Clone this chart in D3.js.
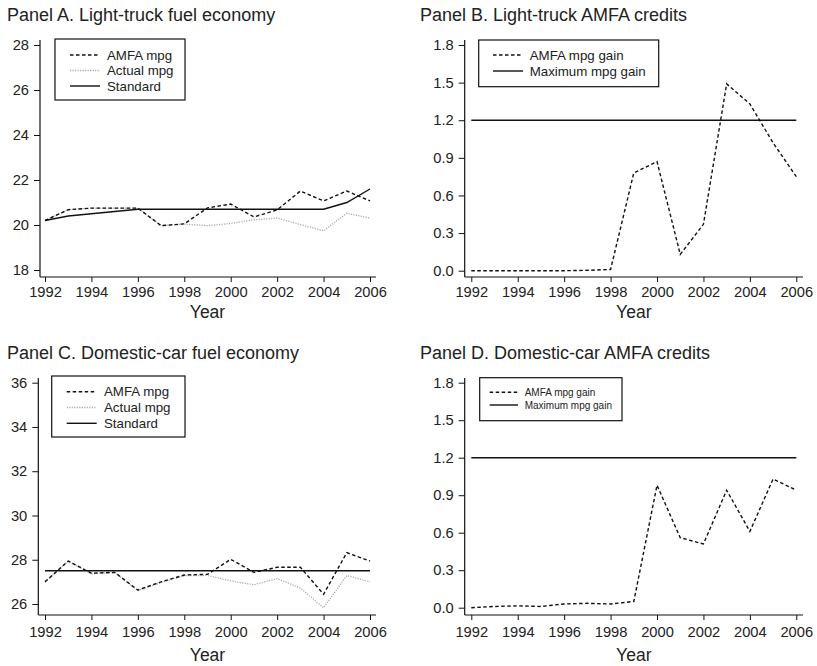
<!DOCTYPE html>
<html>
<head>
<meta charset="utf-8">
<script src="https://cdn.jsdelivr.net/npm/d3@7"></script>
<style>
  body { margin: 0; background: #fff; }
  svg text { font-family: "Liberation Sans", Arial, sans-serif; fill: #222; }
</style>
</head>
<body>
<script>
'use strict';

// data
const years = [1992, 1993, 1994, 1995, 1996, 1997, 1998, 1999, 2000, 2001, 2002, 2003, 2004, 2005, 2006];
const yearTicks = [1992, 1994, 1996, 1998, 2000, 2002, 2004, 2006];

const truckAmfa     = [20.2, 20.68, 20.75, 20.75, 20.75, 19.97, 20.05, 20.76, 20.93, 20.36, 20.67, 21.51, 21.07, 21.51, 21.07];
const truckActual   = [20.2, 20.68, 20.75, 20.75, 20.75, 19.97, 20.04, 19.97, 20.07, 20.23, 20.31, 20.02, 19.74, 20.52, 20.31];
const truckStandard = [20.2, 20.4, 20.5, 20.6, 20.7, 20.7, 20.7, 20.7, 20.7, 20.7, 20.7, 20.7, 20.7, 21.0, 21.6];
const truckGain     = [0, 0, 0, 0, 0, 0.003, 0.01, 0.78, 0.87, 0.13, 0.37, 1.49, 1.33, 1.02, 0.75];
const truckMaxGain  = [1.2, 1.2, 1.2, 1.2, 1.2, 1.2, 1.2, 1.2, 1.2, 1.2, 1.2, 1.2, 1.2, 1.2, 1.2];

const carAmfa     = [27.0, 27.94, 27.39, 27.43, 26.63, 27.0, 27.31, 27.34, 28.02, 27.43, 27.66, 27.66, 26.44, 28.32, 27.94];
const carActual   = [27.0, 27.93, 27.37, 27.42, 26.60, 26.97, 27.28, 27.29, 27.04, 26.87, 27.15, 26.72, 25.83, 27.29, 27.0];
const carStandard = [27.5, 27.5, 27.5, 27.5, 27.5, 27.5, 27.5, 27.5, 27.5, 27.5, 27.5, 27.5, 27.5, 27.5, 27.5];
const carGain     = [0.0, 0.01, 0.015, 0.01, 0.03, 0.035, 0.03, 0.05, 0.98, 0.56, 0.51, 0.94, 0.61, 1.03, 0.94];
const carMaxGain  = [1.2, 1.2, 1.2, 1.2, 1.2, 1.2, 1.2, 1.2, 1.2, 1.2, 1.2, 1.2, 1.2, 1.2, 1.2];

const mpgTicksA = [18, 20, 22, 24, 26, 28];
const mpgTicksC = [26, 28, 30, 32, 34, 36];
const gainTicks = [0.0, 0.3, 0.6, 0.9, 1.2, 1.5, 1.8];

// line styles
const styles = {
  amfa:     { stroke: '#111', width: 1.4, dash: '3.5,2.5' },
  actual:   { stroke: '#aaa', width: 1.3, dash: '1.2,1.3' },
  standard: { stroke: '#111', width: 1.4, dash: null }
};

const svg = d3.select('body').append('svg')
  .attr('width', 817)
  .attr('height', 666);

svg.append('rect').attr('width', 817).attr('height', 666).attr('fill', '#fff');

// one panel = title, two axes, lines, legend box
function drawPanel(p) {
  const g = svg.append('g');

  const x = d3.scaleLinear().domain([1992, 2006]).range(p.xRange);
  const y = d3.scaleLinear().domain(p.yDomain).range(p.yRange);

  g.append('text')
    .attr('x', p.titleX).attr('y', p.titleY)
    .style('font-size', '18px')
    .text(p.title);

  // axis lines
  g.append('line')
    .attr('x1', p.axisX).attr('x2', p.axisX)
    .attr('y1', p.axisTop).attr('y2', p.axisY)
    .attr('stroke', '#111').attr('stroke-width', 1.2);
  g.append('line')
    .attr('x1', p.axisX).attr('x2', p.axisRight)
    .attr('y1', p.axisY).attr('y2', p.axisY)
    .attr('stroke', '#111').attr('stroke-width', 1.2);

  const yAxis = d3.axisLeft(y).tickValues(p.yTicks).tickSize(6).tickPadding(5)
    .tickFormat(p.yFormat);
  g.append('g')
    .attr('transform', `translate(${p.axisX},0)`)
    .call(yAxis)
    .call(a => a.select('.domain').remove())
    .call(a => a.selectAll('line').attr('stroke', '#111'))
    .call(a => a.selectAll('text').style('font-size', '14.7px').attr('fill', '#222'));

  const xAxis = d3.axisBottom(x).tickValues(yearTicks).tickSize(5).tickPadding(p.xPad)
    .tickFormat(d3.format('d'));
  g.append('g')
    .attr('transform', `translate(0,${p.axisY})`)
    .call(xAxis)
    .call(a => a.select('.domain').remove())
    .call(a => a.selectAll('line').attr('stroke', '#111'))
    .call(a => a.selectAll('text').style('font-size', '14.7px').attr('fill', '#222'));

  g.append('text')
    .attr('x', (p.xRange[0] + p.xRange[1]) / 2)
    .attr('y', p.yearY)
    .attr('text-anchor', 'middle')
    .style('font-size', '17.5px')
    .text('Year');

  const line = d3.line()
    .x((d, i) => x(years[i]))
    .y(d => y(d));

  p.series.forEach(s => {
    const st = styles[s.style];
    g.append('path')
      .datum(s.values)
      .attr('d', line)
      .attr('fill', 'none')
      .attr('stroke', st.stroke)
      .attr('stroke-width', st.width)
      .attr('stroke-dasharray', st.dash);
  });

  // legend
  const L = p.legend;
  g.append('rect')
    .attr('x', L.x).attr('y', L.y)
    .attr('width', L.w).attr('height', L.h)
    .attr('fill', '#fff').attr('stroke', '#111').attr('stroke-width', 1.2);
  L.items.forEach((it, i) => {
    const st = styles[it.style];
    const ly = L.firstRow + i * L.rowStep;
    g.append('line')
      .attr('x1', L.lineX).attr('x2', L.lineX + L.lineW)
      .attr('y1', ly).attr('y2', ly)
      .attr('stroke', st.stroke).attr('stroke-width', st.width)
      .attr('stroke-dasharray', st.dash);
    g.append('text')
      .attr('x', L.textX).attr('y', ly)
      .attr('dy', '0.35em')
      .style('font-size', L.font)
      .text(it.label);
  });
}

const fmtGain = d3.format('.1f');
const fmtInt = d3.format('d');

// Panel A
drawPanel({
  title: 'Panel A. Light-truck fuel economy', titleX: 7, titleY: 21,
  xRange: [45, 370], yDomain: [18, 28], yRange: [270, 45],
  axisX: 40, axisY: 277, axisTop: 40, axisRight: 376,
  yTicks: mpgTicksA, yFormat: fmtInt, xPad: 5, yearY: 318,
  series: [
    { values: truckActual, style: 'actual' },
    { values: truckStandard, style: 'standard' },
    { values: truckAmfa, style: 'amfa' }
  ],
  legend: {
    x: 55, y: 39, w: 130, h: 61, firstRow: 55, rowStep: 15.5,
    lineX: 70, lineW: 30, textX: 107, font: '13.3px',
    items: [
      { label: 'AMFA mpg', style: 'amfa' },
      { label: 'Actual mpg', style: 'actual' },
      { label: 'Standard', style: 'standard' }
    ]
  }
});

// Panel B
drawPanel({
  title: 'Panel B. Light-truck AMFA credits', titleX: 420, titleY: 21,
  xRange: [471.3, 796.3], yDomain: [0, 1.8], yRange: [270.7, 45],
  axisX: 464.7, axisY: 277, axisTop: 40, axisRight: 803,
  yTicks: gainTicks, yFormat: fmtGain, xPad: 5, yearY: 318,
  series: [
    { values: truckMaxGain, style: 'standard' },
    { values: truckGain, style: 'amfa' }
  ],
  legend: {
    x: 478.7, y: 40, w: 180, h: 46.7, firstRow: 55, rowStep: 16,
    lineX: 493, lineW: 30, textX: 529.7, font: '13.3px',
    items: [
      { label: 'AMFA mpg gain', style: 'amfa' },
      { label: 'Maximum mpg gain', style: 'standard' }
    ]
  }
});

// Panel C
drawPanel({
  title: 'Panel C. Domestic-car fuel economy', titleX: 7, titleY: 359,
  xRange: [45, 370], yDomain: [26, 36], yRange: [604, 382.7],
  axisX: 38.3, axisY: 615, axisTop: 378, axisRight: 376,
  yTicks: mpgTicksC, yFormat: fmtInt, xPad: 7, yearY: 661,
  series: [
    { values: carActual, style: 'actual' },
    { values: carStandard, style: 'standard' },
    { values: carAmfa, style: 'amfa' }
  ],
  legend: {
    x: 51.7, y: 376, w: 133.3, h: 61, firstRow: 391.7, rowStep: 15.8,
    lineX: 66.7, lineW: 30, textX: 104, font: '13.3px',
    items: [
      { label: 'AMFA mpg', style: 'amfa' },
      { label: 'Actual mpg', style: 'actual' },
      { label: 'Standard', style: 'standard' }
    ]
  }
});

// Panel D
drawPanel({
  title: 'Panel D. Domestic-car AMFA credits', titleX: 420, titleY: 359,
  xRange: [471.3, 796.3], yDomain: [0, 1.8], yRange: [607.7, 382.7],
  axisX: 464.7, axisY: 615, axisTop: 378, axisRight: 803,
  yTicks: gainTicks, yFormat: fmtGain, xPad: 7, yearY: 661,
  series: [
    { values: carMaxGain, style: 'standard' },
    { values: carGain, style: 'amfa' }
  ],
  legend: {
    x: 479.7, y: 377.7, w: 142.3, h: 43, firstRow: 392.3, rowStep: 12.7,
    lineX: 489.7, lineW: 28.3, textX: 524.7, font: '10px',
    items: [
      { label: 'AMFA mpg gain', style: 'amfa' },
      { label: 'Maximum mpg gain', style: 'standard' }
    ]
  }
});
</script>
</body>
</html>
